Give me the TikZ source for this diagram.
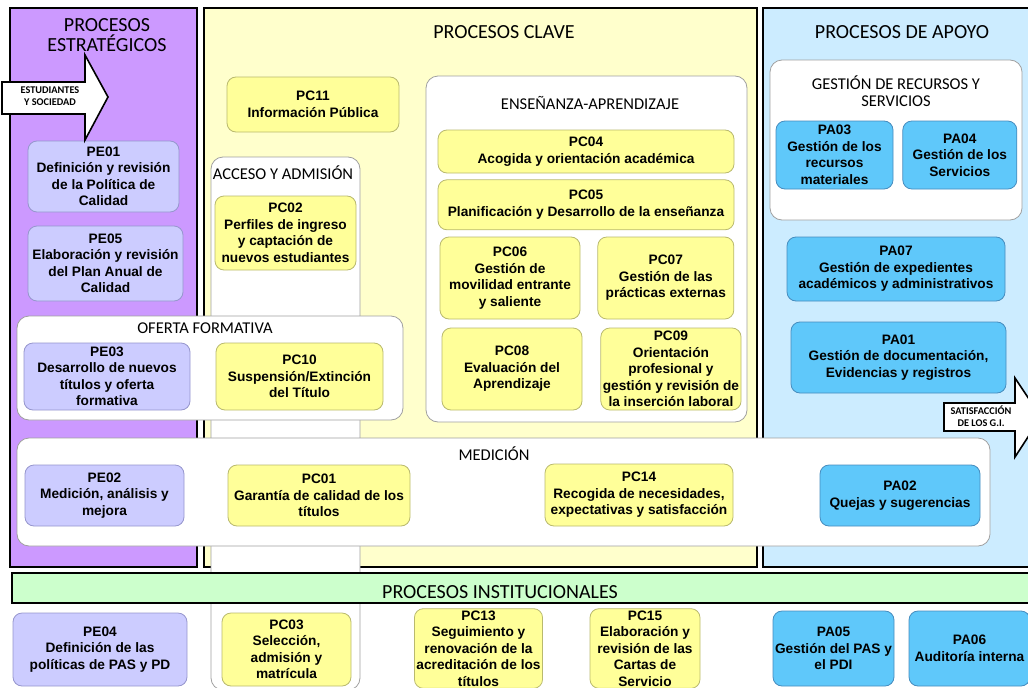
\documentclass[tikz,border=0pt]{standalone}
\usepackage{fontspec}
\setmainfont{Liberation Sans}
\newfontfamily\titlefont{Carlito}
\usetikzlibrary{
arrows.meta,
positioning,
shapes
}
\tikzset{>=latex}

\definecolor{estrFill}{RGB}{204,153,255}
\definecolor{claveFill}{RGB}{255,255,204}
\definecolor{apoyoFill}{RGB}{204,236,255}
\definecolor{instFill}{RGB}{204,255,204}
\definecolor{peFill}{RGB}{204,204,255}
\definecolor{peLine}{RGB}{150,150,205}
\definecolor{pcFill}{RGB}{255,255,153}
\definecolor{pcLine}{RGB}{185,185,110}
\definecolor{paFill}{RGB}{95,200,250}
\definecolor{paLine}{RGB}{70,140,190}
\definecolor{groupLine}{RGB}{160,160,160}

\begin{document}
\begin{tikzpicture}[x=1pt,y=-1pt,node distance=6pt,
	proc/.style={rounded corners=9pt, align=center, inner sep=2pt, font=\ts, line width=0.8pt},
	pe/.style={proc, fill=peFill, draw=peLine},
	pc/.style={proc, fill=pcFill, draw=pcLine},
	pa/.style={proc, fill=paFill, draw=paLine},
	box/.style 2 args={minimum width=#1pt, minimum height=#2pt},
	panel/.style={draw=black, line width=2.5pt},
	group/.style={fill=white, draw=groupLine, line width=0.8pt, rounded corners=12pt},
	head/.style={font=\titlefont\fontsize{20}{20}\selectfont, align=center, inner sep=0pt},
	subhead/.style={font=\titlefont\fontsize{16.5}{17}\selectfont, align=center, inner sep=0pt},
	bigarrow/.style={fill=white, draw=black, line width=1.6pt, line join=miter},
	arrowtext/.style={font=\titlefont\bfseries\fontsize{10.3}{12}\selectfont, align=center, inner sep=0pt}]
		\def\ts{\bfseries\fontsize{13.7}{16.5}\selectfont}
		\useasboundingbox (0,0) rectangle (1028,688);
		\clip (0,0) rectangle (1028,688);
		
		% panels
		\draw[panel, fill=estrFill] (10,8) rectangle (197,567);
		\draw[panel, fill=claveFill] (204,8) rectangle (757,567);
		\draw[panel, fill=apoyoFill] (763,8) rectangle (1040,567);
		
		% groups
		\draw[group] (211,157) rectangle (360,690);
		\draw[group] (426,76) rectangle (747,422);
		\draw[group] (770,60) rectangle (1022,220);
		\draw[group] (17,316) rectangle (403,420);
		\draw[group] (17,438) rectangle (990,546);
		\draw[panel, fill=instFill] (12,573) rectangle (1040,603);
		
		% titles
		\node[head] at (107,35) (tEstr) {PROCESOS\\ESTRATÉGICOS};
		\node[head] at (504,32) (tClave) {PROCESOS CLAVE};
		\node[head] at (902,32) (tApoyo) {PROCESOS DE APOYO};
		\node[head] at (500,592) (tInst) {PROCESOS INSTITUCIONALES};
		\node[subhead] at (283,173) (tAcceso) {ACCESO Y ADMISIÓN};
		\node[subhead] at (590,103) (tEns) {ENSEÑANZA-APRENDIZAJE};
		\node[subhead] at (896,91) (tRec) {GESTIÓN DE RECURSOS Y\\SERVICIOS};
		\node[subhead] at (205,328) (tOferta) {OFERTA FORMATIVA};
		\node[subhead] at (494,454) (tMed) {MEDICIÓN};
		
		% estrategicos
		\node[pe, box={151}{71}] at (103.5,176.5) (pe01) {PE01\\Definición y revisión\\de la Política de\\Calidad};
		\node[pe, box={155}{75}] at (105.5,263.5) (pe05) {PE05\\Elaboración y revisión\\del Plan Anual de\\Calidad};
		\node[pe, box={166}{67}] at (107,376.5) (pe03) {PE03\\Desarrollo de nuevos\\títulos y oferta\\formativa};
		\node[pe, box={159}{61}] at (104.5,495.5) (pe02) {PE02\\Medición, análisis y\\mejora};
		\node[pe, box={174}{73}] at (100,649.5) (pe04) {PE04\\Definición de las\\políticas de PAS y PD};
		
		% clave
		\node[pc, box={172}{55}] at (313,104.5) (pc11) {PC11\\Información Pública};
		\node[pc, box={141}{74}] at (285.5,233) (pc02) {PC02\\Perfiles de ingreso\\y captación de\\nuevos estudiantes};
		\node[pc, box={167}{67}] at (299.5,376.5) (pc10) {PC10\\Suspensión/Extinción\\del Título};
		\node[pc, box={182}{61}] at (319,495.5) (pc01) {PC01\\Garantía de calidad de los\\títulos};
		\node[pc, box={296}{43}] at (586,151.5) (pc04) {PC04\\Acogida y orientación académica};
		\node[pc, box={296}{50}, below=of pc04] (pc05) {PC05\\Planificación y Desarrollo de la enseñanza};
		\node[pc, box={140}{82}] at (510,278) (pc06) {PC06\\Gestión de\\movilidad entrante\\y saliente};
		\node[pc, box={136}{82}, right=17pt of pc06] (pc07) {PC07\\Gestión de las\\prácticas externas};
		\node[pc, box={140}{82}] at (512,369) (pc08) {PC08\\Evaluación del\\Aprendizaje};
		\node[pc, box={135}{82}, right=18pt of pc08] (pc09) {PC09\\Orientación\\profesional y\\gestión y revisión de\\la inserción laboral};
		\node[pc, box={188}{62}] at (639,495) (pc14) {PC14\\Recogida de necesidades,\\expectativas y satisfacción};
		\node[pc, box={129}{73}] at (286.5,649.5) (pc03) {PC03\\Selección,\\admisión y\\matrícula};
		\node[pc, box={125}{75}] at (478.5,648.5) (pc13) {PC13\\Seguimiento y\\renovación de la\\acreditación de los\\títulos};
		\node[pc, box={110}{75}] at (645,648.5) (pc15) {PC15\\Elaboración y\\revisión de las\\Cartas de\\Servicio};
		
		% apoyo
		\node[pa, box={117}{68}] at (834.5,155) (pa03) {PA03\\Gestión de los\\recursos\\materiales};
		\node[pa, box={114}{68}, right=9pt of pa03] (pa04) {PA04\\Gestión de los\\Servicios};
		\node[pa, box={218}{64}] at (896,269) (pa07) {PA07\\Gestión de expedientes\\académicos y administrativos};
		\node[pa, box={215}{71}] at (898.5,357.5) (pa01) {PA01\\Gestión de documentación,\\Evidencias y registros};
		\node[pa, box={160}{61}] at (900,495.5) (pa02) {PA02\\Quejas y sugerencias};
		\node[pa, box={119}{75}] at (833.5,648.5) (pa05) {PA05\\Gestión del PAS y\\el PDI};
		\node[pa, box={121}{75}] at (969.5,648.5) (pa06) {PA06\\Auditoría interna};
		
		% big arrows
		\draw[bigarrow] (2,82) -- (85,82) -- (85,55) -- (108,97) -- (85,140) -- (85,114) -- (2,114) -- cycle;
		\node[arrowtext] at (50,96) (inArrow) {ESTUDIANTES\\Y SOCIEDAD};
		\draw[bigarrow] (944,403) -- (1015,403) -- (1015,378) -- (1041,417) -- (1015,457) -- (1015,431) -- (944,431) -- cycle;
		\node[arrowtext] at (981,416) (outArrow) {SATISFACCIÓN\\DE LOS G.I.};
		\end{tikzpicture}
\end{document}
